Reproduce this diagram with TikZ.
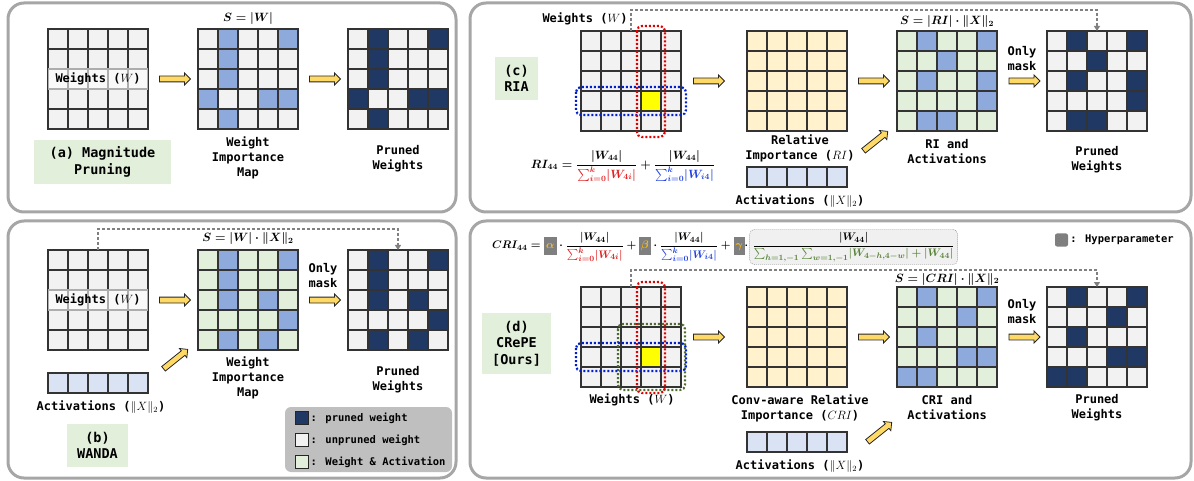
\documentclass[tikz,border=0pt]{standalone}
\usepackage{amsmath}
\usepackage{fontspec}
\setmainfont{DejaVu Sans Mono}
\usetikzlibrary{shapes.arrows,arrows.meta,calc}
\definecolor{cellgray}{HTML}{F2F2F2}
\definecolor{mapblue}{HTML}{8EA9DB}
\definecolor{navy}{HTML}{1F3864}
\definecolor{lgreen}{HTML}{E2EFDA}
\definecolor{lyellow}{HTML}{FFF2CC}
\definecolor{actblue}{HTML}{DAE3F3}
\definecolor{arrowfill}{HTML}{FFD966}
\definecolor{panelgray}{HTML}{A6A6A6}
\definecolor{dashgray}{HTML}{808080}
\definecolor{leggray}{HTML}{BFBFBF}
\definecolor{hpgray}{HTML}{7F7F7F}
\definecolor{hpgold}{HTML}{FFC000}
\definecolor{fred}{HTML}{E02020}
\definecolor{fblue}{HTML}{2040E0}
\definecolor{fgreen}{HTML}{548235}
\definecolor{boxred}{HTML}{E00000}
\definecolor{boxblue}{HTML}{0020D0}
\definecolor{boxgreen}{HTML}{4E6B30}
\definecolor{hlyellow}{HTML}{FFFF00}
\newcommand{\hp}[1]{{\setlength{\fboxsep}{2pt}\colorbox{hpgray}{\rule[-4pt]{0pt}{14pt}\color{hpgold}$#1$}}}
\newcommand{\ab}[1]{\lvert #1\rvert}
\newcommand{\nrm}[1]{\lVert #1\rVert}
\def\cs{20}
\newcommand{\mygrid}[6]{%
  \node[gridbox,fill=#4] (#1) at ({#2+\cs*2.5},{#3+\cs*2.5}) {};
  \foreach \r/\c in {#6}{\fill[#5] ({#2+(\c-1)*\cs},{#3+(\r-1)*\cs}) rectangle ++(\cs,\cs);}
  \foreach \i in {1,...,4}{
    \draw[gridline] ({#2+\i*\cs},#3) -- ++(0,{5*\cs});
    \draw[gridline] (#2,{#3+\i*\cs}) -- ++({5*\cs},0);}
  \draw[gridline] (#1.north west) rectangle (#1.south east);
}
\newcommand{\actbar}[3]{%
  \node[gridbox,fill=actblue,minimum height=20pt] (#1) at ({#2+\cs*2.5},{#3+10}) {};
  \foreach \i in {1,...,4}{\draw[gridline] ({#2+\i*\cs},#3) -- ++(0,20);}
  \draw[gridline] (#1.north west) rectangle (#1.south east);
}
\tikzset{
  gridbox/.style={minimum width=100pt,minimum height=100pt,inner sep=0pt,outer sep=0pt},
  gridline/.style={draw=black!80,line width=1.7pt},
  panel/.style={draw=panelgray,line width=3pt,rounded corners=16pt},
  txt/.style={font=\bfseries\fontsize{12}{15}\selectfont,align=center,inner sep=1pt},
  plabel/.style={fill=lgreen,font=\bfseries\fontsize{13.5}{16.5}\selectfont,align=center,inner sep=0pt},
  bigarrow/.style={single arrow,draw=black!85,fill=arrowfill,line width=0.8pt,minimum height=31pt,
    minimum width=11pt,single arrow head extend=3pt,inner xsep=0pt,inner ysep=2.5pt},
  conn/.style={draw=dashgray,line width=1.2pt,dash pattern=on 3pt off 2pt,-{Triangle[width=6pt,length=5pt]}},
  wlabel/.style={fill=white,fill opacity=0.6,text opacity=1,minimum width=100pt,minimum height=22pt,inner sep=0pt,font=\bfseries\fontsize{12}{15}\selectfont},
  dotbox/.style={line width=2.2pt,dash pattern=on 2pt off 2pt,rounded corners=5pt},
  legtxt/.style={font=\bfseries\fontsize{10.5}{13}\selectfont,inner sep=2pt},
  legsq/.style={draw=black!85,line width=1pt,minimum size=13pt,inner sep=0pt},
  fml/.style={font=\fontsize{12}{15}\selectfont\mathversion{bold},inner sep=1pt},
  fmls/.style={font=\fontsize{11}{14}\selectfont\mathversion{bold},inner sep=1pt},
}
\begin{document}
\begin{tikzpicture}[x=1pt,y=-1pt]
\useasboundingbox (0,0) rectangle (1194,481);
% panels
\draw[panel] (8,3) rectangle (456,212);
\draw[panel] (8,221) rectangle (456,478);
\draw[panel] (470,3) rectangle (1191,212);
\draw[panel] (470,221) rectangle (1191,478);

% ---------- (a) ----------
\mygrid{wA}{48}{29}{cellgray}{cellgray}{1/1}
\mygrid{mA}{198}{29}{cellgray}{mapblue}{1/2,1/5,2/2,3/2,4/1,4/4,4/5,5/2}
\mygrid{pA}{348}{29}{cellgray}{navy}{1/2,1/5,2/2,3/2,4/1,4/4,4/5,5/2}
\node[wlabel] (lA) at (wA) {Weights ($W$)};
\node[bigarrow] (a1) at (173.5,79) {};
\node[bigarrow] (a2) at (323.5,79) {};
\node[fml] (sA) at (248,19) {$S = \ab{W}$};
\node[plabel,minimum width=137pt,minimum height=44pt] (labA) at (102.5,162) {(a) Magnitude\\Pruning};
\node[txt] (tA1) at (248,158) {Weight\\Importance\\Map};
\node[txt] (tA2) at (398,158.5) {Pruned\\Weights};

% ---------- (b) ----------
\mygrid{wB}{48}{250}{cellgray}{cellgray}{1/1}
\mygrid{mB}{198}{250}{lgreen}{mapblue}{1/2,1/5,2/2,3/2,3/4,4/5,5/2,5/4}
\mygrid{pB}{348}{250}{cellgray}{navy}{1/2,1/5,2/2,3/2,3/4,4/5,5/2,5/4}
\node[wlabel] (lB) at (wB) {Weights ($W$)};
\actbar{xB}{48}{373}
\node[txt] (tB0) at (101,407) {Activations ($\nrm{X}_2$)};
\node[bigarrow] (b1) at (173.5,300) {};
\node[bigarrow] (b2) at (323.5,300) {};
\node[bigarrow,rotate=38.7] (b3) at (174.5,360) {};
\node[fml] (sB) at (248,239) {$S = \ab{W}\cdot\nrm{X}_2$};
\draw[conn] (wB.north) -- ++(0,-21) -| (pB.north);
\node[txt] (tB1) at (248,378) {Weight\\Importance\\Map};
\node[txt] (tB2) at (398,379.5) {Pruned\\Weights};
\node[txt] (tB3) at (323,275.5) {Only\\mask};
\node[plabel,minimum width=61pt,minimum height=43pt] (labB) at (97.5,445.5) {(b)\\WANDA};
% legend
\node[fill=leggray,rounded corners=6pt,minimum width=167pt,minimum height=65pt,inner sep=0pt] (leg) at (368.5,439.5) {};
\node[legsq,fill=navy] (lg1) at (301.5,418) {};
\node[legtxt,anchor=west] (lgt1) at (lg1.east) {: pruned weight};
\node[legsq,fill=cellgray] (lg2) at (301.5,440) {};
\node[legtxt,anchor=west] (lgt2) at (lg2.east) {: unpruned weight};
\node[legsq,fill=lgreen] (lg3) at (301.5,462) {};
\node[legtxt,anchor=west] (lgt3) at (lg3.east) {: Weight \& Activation};

% ---------- (c) ----------
\mygrid{wC}{581}{31}{cellgray}{hlyellow}{4/4}
\mygrid{rC}{747}{31}{lyellow}{lyellow}{1/1}
\mygrid{mC}{897}{31}{lgreen}{mapblue}{1/2,1/5,2/3,3/2,3/5,4/5,5/2,5/3}
\mygrid{pC}{1047}{31}{cellgray}{navy}{1/2,1/5,2/3,3/2,3/5,4/5,5/2,5/3}
\draw[dotbox,draw=boxblue] (576,87) rectangle (686,115);
\draw[dotbox,draw=boxred] (637,26) rectangle (665,137);
\node[txt] (tC0) at (585,19) {Weights ($W$)};
\draw[conn] (wC.north) -- ++(0,-21) -| (pC.north);
\node[plabel,minimum width=43pt,minimum height=43pt] (labC) at (516.5,78.5) {(c)\\RIA};
\node[fml] (riC) at (623,166) {$RI_{44} = \dfrac{\ab{W_{44}}}{\color{fred}\sum_{i=0}^{k}\ab{W_{4i}}} + \dfrac{\ab{W_{44}}}{\color{fblue}\sum_{i=0}^{k}\ab{W_{i4}}}$};
\node[bigarrow] (c1) at (707.5,81) {};
\node[bigarrow] (c2) at (872.5,81) {};
\node[bigarrow] (c3) at (1023,81) {};
\node[bigarrow,rotate=38.7] (c4) at (874.5,142) {};
\node[txt] (tC1) at (800,148.5) {Relative\\Importance ($RI$)};
\actbar{xC}{747}{167}
\node[txt] (tC2) at (800,201) {Activations ($\nrm{X}_2$)};
\node[fml] (sC) at (947,22) {$S = \ab{RI}\cdot\nrm{X}_2$};
\node[txt] (tC3) at (947,151.5) {RI and\\Activations};
\node[txt] (tC4) at (1022,58.5) {Only\\mask};
\node[txt] (tC5) at (1097,159.5) {Pruned\\Weights};

% ---------- (d) ----------
\node[fmls,anchor=west] (cri) at (491,247) {$CRI_{44} = \hp{\alpha}\cdot\dfrac{\ab{W_{44}}}{\color{fred}\sum_{i=0}^{k}\ab{W_{4i}}} + \hp{\beta}\cdot\dfrac{\ab{W_{44}}}{\color{fblue}\sum_{i=0}^{k}\ab{W_{i4}}} + \hp{\gamma}\cdot$};
\node[fmls,anchor=west,draw=black!50,fill=black!6,dash pattern=on 1pt off 1pt,rounded corners=5pt,inner sep=3pt] (crib) at (cri.east) {$\dfrac{\ab{W_{44}}}{\color{fgreen}\sum_{h=1,-1}\sum_{w=1,-1}\ab{W_{4-h,4-w}}+\ab{W_{44}}}$};
\node[fill=hpgray,rounded corners=2pt,minimum size=13pt,inner sep=0pt] (hpl) at (1061.5,240) {};
\node[legtxt,anchor=west] (hplt) at (hpl.east) {: Hyperparameter};
\mygrid{wD}{581}{287}{cellgray}{hlyellow}{4/4}
\mygrid{rD}{747}{287}{lyellow}{lyellow}{1/1}
\mygrid{mD}{897}{287}{lgreen}{mapblue}{1/2,1/5,2/4,3/2,4/4,4/5,5/1,5/2}
\mygrid{pD}{1047}{287}{cellgray}{navy}{1/2,1/5,2/4,3/2,4/4,4/5,5/1,5/2}
\draw[dotbox,draw=boxgreen] (618,324) rectangle (685,390);
\draw[dotbox,draw=boxblue] (576,343) rectangle (686,371);
\draw[dotbox,draw=boxred] (637,282) rectangle (665,393);
\draw[conn] (wD.north) -- ++(0,-17) -| (pD.north);
\node[txt] (tD0) at (632,400) {Weights ($W$)};
\node[plabel,minimum width=69pt,minimum height=61pt] (labD) at (516.5,343.5) {(d)\\CRePE\\{[Ours]}};
\node[bigarrow] (d1) at (707.5,337) {};
\node[bigarrow] (d2) at (872.5,337) {};
\node[bigarrow] (d3) at (1023,337) {};
\node[bigarrow,rotate=38.7] (d4) at (878.5,433) {};
\node[txt] (tD1) at (800,408) {Conv-aware Relative\\Importance ($CRI$)};
\actbar{xD}{747}{432}
\node[txt] (tD2) at (800,466) {Activations ($\nrm{X}_2$)};
\node[fml] (sD) at (947,279) {$S = \ab{CRI}\cdot\nrm{X}_2$};
\node[txt] (tD3) at (947,407.5) {CRI and\\Activations};
\node[txt] (tD4) at (1022,312) {Only\\mask};
\node[txt] (tD5) at (1097,407.5) {Pruned\\Weights};
\end{tikzpicture}
\end{document}
